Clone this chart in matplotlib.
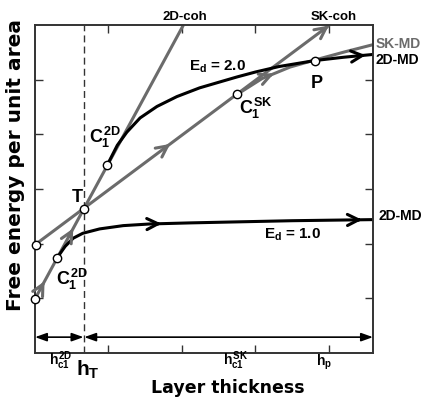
import numpy as np
import matplotlib
matplotlib.use("Agg")
import matplotlib.pyplot as plt

plt.rcParams['font.family'] = ['Liberation Sans', 'DejaVu Sans']
plt.rcParams['font.weight'] = 'bold'
plt.rcParams['mathtext.fontset'] = 'custom'
plt.rcParams['mathtext.rm'] = 'Liberation Sans:bold'
plt.rcParams['mathtext.it'] = 'Liberation Sans:bold'
plt.rcParams['mathtext.bf'] = 'Liberation Sans:bold'

GRAY = '#6b6b6b'

# coherent lines (straight)
coh2d_x = [0.0, 2.02]
coh2d_y = [0.99, 6.0]
skcoh_x = [0.0, 4.0]
skcoh_y = [1.98, 5.99]

# 2D-MD, Ed = 2.0
md2_x = [0.98, 1.12, 1.25, 1.43, 1.66, 1.93, 2.24, 2.52, 2.75, 3.0, 3.32, 3.81, 4.2, 4.59]
md2_y = [3.43, 3.80, 4.04, 4.30, 4.51, 4.69, 4.85, 4.96, 5.05, 5.14, 5.24, 5.35, 5.41, 5.46]

# 2D-MD, Ed = 1.0
md1_x = [0.30, 0.41, 0.52, 0.65, 0.88, 1.20, 1.56, 2.11, 2.8, 3.5, 4.6]
md1_y = [1.74, 1.95, 2.10, 2.19, 2.27, 2.33, 2.36, 2.38, 2.40, 2.42, 2.44]

# SK-MD
skmd_x = [2.75, 3.09, 3.47, 3.81, 4.22, 4.6]
skmd_y = [4.73, 5.02, 5.23, 5.36, 5.51, 5.64]

# special points: low end, high end, C1(2D,Ed=1), T, C1(2D,Ed=2), C1(SK), P
pt_x = [0.0, 0.01, 0.30, 0.66, 0.98, 2.75, 3.81]
pt_y = [0.99, 1.98, 1.74, 2.64, 3.43, 4.73, 5.35]

h_T = 0.66


def mid_arrow(ax, xs, ys, at, color, lw):
    x0 = at - 0.06
    y0 = np.interp(x0, xs, ys)
    y1 = np.interp(at, xs, ys)
    ax.annotate('', xy=(at, y1), xytext=(x0, y0),
                arrowprops=dict(arrowstyle='->,head_length=0.8,head_width=0.4',
                                color=color, lw=lw, shrinkA=0, shrinkB=0),
                annotation_clip=False)


fig = plt.figure(figsize=(4.25, 4.0), dpi=100)
ax = fig.add_axes([0.0824, 0.1175, 0.7952, 0.82])

lw = 2.2
ax.plot(coh2d_x, coh2d_y, color=GRAY, lw=lw, solid_capstyle='butt')
ax.plot(skcoh_x, skcoh_y, color=GRAY, lw=lw, solid_capstyle='butt')
ax.plot(skmd_x, skmd_y, color=GRAY, lw=lw)
ax.plot(md2_x, md2_y, color='black', lw=lw)
ax.plot(md1_x, md1_y, color='black', lw=lw)

# direction arrows
mid_arrow(ax, coh2d_x, coh2d_y, 0.13, GRAY, lw)
mid_arrow(ax, coh2d_x, coh2d_y, 0.52, GRAY, lw)
mid_arrow(ax, skcoh_x, skcoh_y, 1.84, GRAY, lw)
mid_arrow(ax, skcoh_x, skcoh_y, 4.0, GRAY, lw)
mid_arrow(ax, skmd_x, skmd_y, 3.25, GRAY, lw)
mid_arrow(ax, md1_x, md1_y, 1.72, 'black', lw)
mid_arrow(ax, md1_x, md1_y, 4.45, 'black', lw)
mid_arrow(ax, md2_x, md2_y, 4.5, 'black', lw)

ax.plot(pt_x, pt_y, 'o', ms=6, mfc='white', mec='black', mew=1.0,
        zorder=5, clip_on=False)

# h_T dashed line
ax.axvline(h_T, color='#333333', lw=1.0, ls=(0, (5, 3)))

# thickness ranges at the bottom
ay = 0.29
ax.annotate('', xy=(0.0, ay), xytext=(h_T, ay),
            arrowprops=dict(arrowstyle='<|-|>,head_length=0.7,head_width=0.25',
                            color='black', lw=1.2, shrinkA=0, shrinkB=0))
ax.annotate('', xy=(4.6, ay), xytext=(h_T + 0.01, ay),
            arrowprops=dict(arrowstyle='<|-|>,head_length=0.7,head_width=0.25',
                            color='black', lw=1.2, shrinkA=0, shrinkB=0))

ax.set_xlim(0, 4.6)
ax.set_ylim(0, 6)
ax.set_xticks([1, 2, 3, 4])
ax.set_yticks([1, 2, 3, 4, 5])
ax.tick_params(direction='in', length=6, width=1, top=True, right=True,
               labelbottom=False, labelleft=False, color='#333333')
for s in ax.spines.values():
    s.set_linewidth(1.4)
    s.set_color('#333333')

# labels on lines
ax.text(2.04, 6.15, '2D-coh', ha='center', va='center', fontsize=9.5,
        fontweight='bold', clip_on=False)
ax.text(4.07, 6.15, 'SK-coh', ha='center', va='center', fontsize=9.5,
        fontweight='bold', clip_on=False)
ax.text(4.63, 5.66, 'SK-MD', ha='left', va='center', fontsize=10,
        fontweight='bold', color=GRAY, clip_on=False)
ax.text(4.63, 5.36, '2D-MD', ha='left', va='center', fontsize=10,
        fontweight='bold', clip_on=False)
ax.text(4.68, 2.51, '2D-MD', ha='left', va='center', fontsize=10,
        fontweight='bold', clip_on=False)
ax.text(2.48, 5.24, r'$E_d$ = 2.0', ha='center', va='center', fontsize=11,
        fontweight='bold')
ax.text(3.50, 2.16, r'$E_d$ = 1.0', ha='center', va='center', fontsize=11,
        fontweight='bold')
ax.text(0.57, 2.85, 'T', ha='center', va='center', fontsize=13,
        fontweight='bold')
ax.text(0.73, 3.95, r'$C_1^{2D}$', ha='left', va='center', fontsize=13)
ax.text(0.28, 1.35, r'$C_1^{2D}$', ha='left', va='center', fontsize=13)
ax.text(2.78, 4.47, r'$C_1^{SK}$', ha='left', va='center', fontsize=13)
ax.text(3.84, 4.93, 'P', ha='center', va='center', fontsize=13,
        fontweight='bold')

# thickness marks below axis
ax.text(0.35, -0.14, r'$h_{c1}^{2D}$', ha='center', va='center', fontsize=10,
        clip_on=False)
ax.text(0.72, -0.30, r'$h_T$', ha='center', va='center', fontsize=15,
        clip_on=False)
ax.text(2.73, -0.14, r'$h_{c1}^{SK}$', ha='center', va='center', fontsize=10,
        clip_on=False)
ax.text(3.93, -0.17, r'$h_p$', ha='center', va='center', fontsize=10,
        clip_on=False)

# axis titles
fig.text(0.536, 0.03, 'Layer thickness', ha='center', va='center',
         fontsize=12.5, fontweight='bold', family='DejaVu Sans')
fig.text(0.036, 0.5875, 'Free energy per unit area', ha='center',
         va='center', rotation=90, fontsize=14.5, fontweight='bold',
         family='DejaVu Sans')

fig.savefig('out.png', dpi=100)
